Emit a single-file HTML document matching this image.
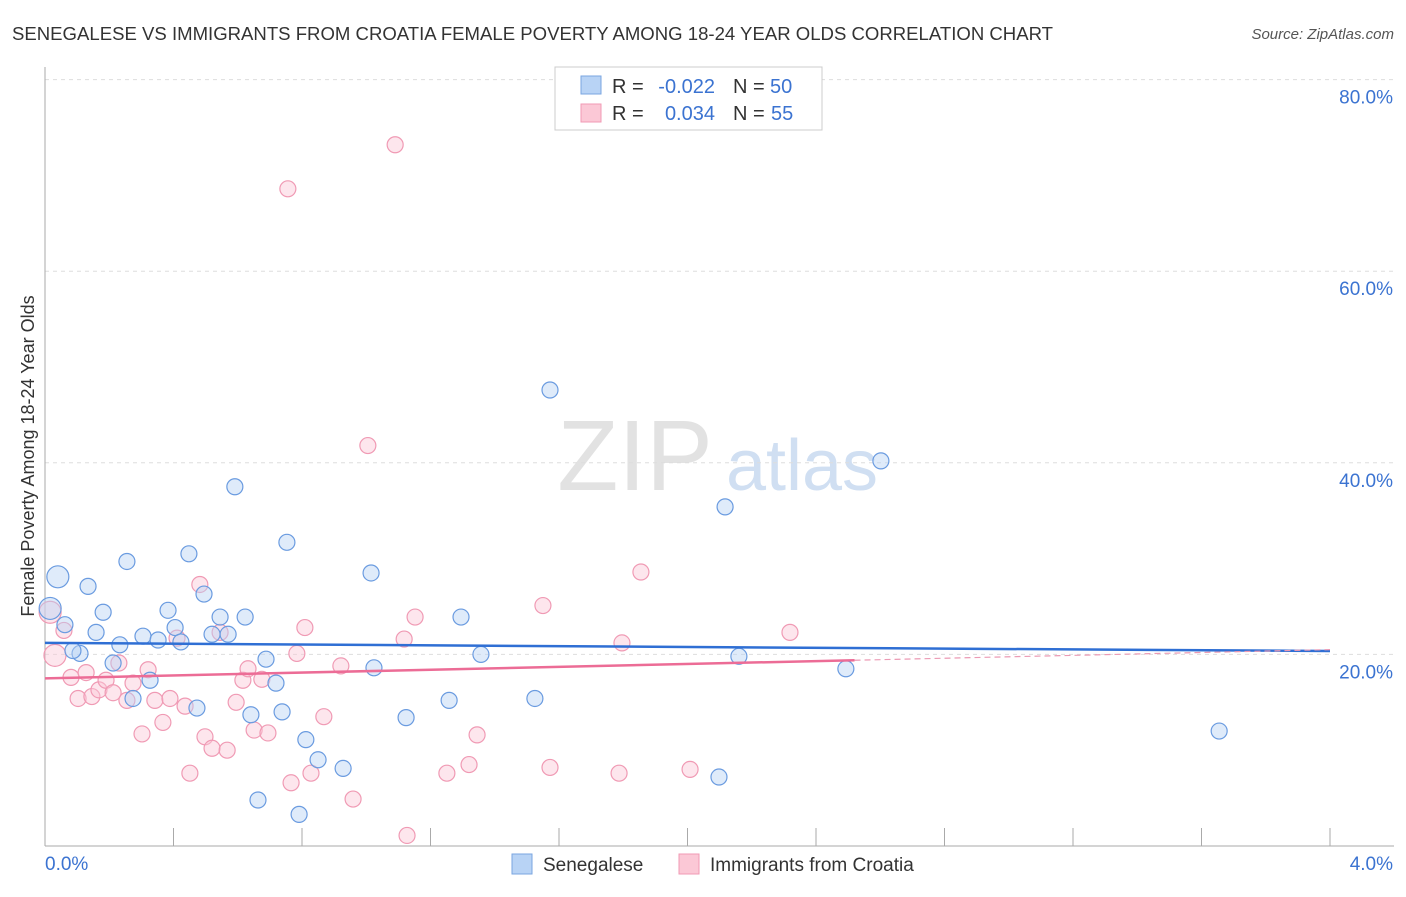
<!DOCTYPE html>
<html><head><meta charset="utf-8"><style>
body{margin:0;background:#fff;font-family:"Liberation Sans",sans-serif;}
svg text{font-family:"Liberation Sans",sans-serif;}
</style></head><body>
<svg id="chart" width="1406" height="892" xmlns="http://www.w3.org/2000/svg">
<text x="12" y="40" font-size="18" fill="#333" textLength="1041" lengthAdjust="spacingAndGlyphs">SENEGALESE VS IMMIGRANTS FROM CROATIA FEMALE POVERTY AMONG 18-24 YEAR OLDS CORRELATION CHART</text>
<text x="1394" y="39" font-size="15" fill="#555" font-style="italic" text-anchor="end">Source: ZipAtlas.com</text>
<text x="635" y="490" font-size="100" fill="#e2e2e2" font-family="Liberation Serif" text-anchor="middle">ZIP</text>
<text x="802" y="490" font-size="72" fill="#d0dff2" text-anchor="middle">atlas</text>
<text transform="translate(34,456) rotate(-90)" font-size="18" fill="#333" text-anchor="middle">Female Poverty Among 18-24 Year Olds</text>
<g id="grid"></g><g id="marks"></g>
<g>
<rect x="555" y="67" width="267" height="63" fill="#fff" stroke="#ccc"/>
<rect x="581" y="76" width="20" height="18" fill="#b8d3f5" stroke="#7aa6e0"/>
<rect x="581" y="104" width="20" height="18" fill="#fbc8d6" stroke="#f09ab4"/>
<text x="612" y="93" font-size="20" fill="#333">R =</text>
<text x="715" y="93" font-size="20" fill="#3b73d1" text-anchor="end">-0.022</text>
<text x="733" y="93" font-size="20" fill="#333">N =</text>
<text x="770" y="93" font-size="20" fill="#3b73d1">50</text>
<text x="612" y="120" font-size="20" fill="#333">R =</text>
<text x="715" y="120" font-size="20" fill="#3b73d1" text-anchor="end">0.034</text>
<text x="733" y="120" font-size="20" fill="#333">N =</text>
<text x="771" y="120" font-size="20" fill="#3b73d1">55</text>
</g>
<g>
<rect x="512" y="854" width="20" height="20" fill="#b8d3f5" stroke="#7aa6e0"/>
<text x="543" y="871" font-size="19" fill="#333">Senegalese</text>
<rect x="679" y="854" width="20" height="20" fill="#fbc8d6" stroke="#f09ab4"/>
<text x="710" y="871" font-size="19" fill="#333">Immigrants from Croatia</text>
</g>
</svg>
<script>
const blueX=[.016,.04,.062,.134,.181,.159,.109,.087,.212,.233,.255,.305,.327,.352,.383,.405,.423,.448,.473,.495,.52,.545,.57,.591,.623,.641,.663,.688,.719,.738,.753,.791,.812,.85,.928,1.015,1.024,1.124,1.258,1.295,1.357,1.525,1.572,2.098,2.117,2.16,2.493,2.602,3.655,.274];
const blueY=[24.8,28.1,23.1,27.1,24.4,22.3,20.1,20.4,19.1,21.0,29.7,21.9,17.3,21.5,24.6,22.8,21.3,30.5,14.4,26.3,22.1,23.9,22.1,37.5,23.9,13.7,4.8,19.5,17.0,14.0,31.7,3.3,11.1,9.0,8.1,28.5,18.6,13.4,15.2,23.9,20.0,15.4,47.6,7.2,35.4,19.8,18.5,40.2,12.0,15.4];
const pinkX=[.016,.031,.059,.081,.103,.128,.146,.168,.19,.212,.23,.255,.274,.302,.321,.342,.367,.389,.411,.436,.451,.482,.498,.52,.545,.567,.595,.616,.632,.651,.675,.694,.756,.766,.784,.809,.828,.868,.921,.959,1.005,1.09,1.118,1.127,1.152,1.251,1.32,1.345,1.55,1.572,1.787,1.796,1.855,2.008,2.319];
const pinkY=[24.4,19.9,22.5,17.6,15.4,18.1,15.6,16.3,17.3,16.0,19.1,15.2,17.0,11.7,18.4,15.2,12.9,15.4,21.7,14.6,7.6,27.3,11.4,10.2,22.3,10.0,15.0,17.3,18.5,12.1,17.4,11.8,68.6,6.6,20.1,22.8,7.6,13.5,18.8,4.9,41.8,73.2,21.6,1.1,23.9,7.6,8.5,11.6,25.1,8.2,7.6,21.2,28.6,8.0,22.3];
const blueTrend=[21.2,20.35];
const pinkTrend=[17.5,20.5];
const yTicks=[20,40,60,80];
const xTicks=[0,0.4,0.8,1.2,1.6,2.0,2.4,2.8,3.2,3.6,4.0];
const X=v=>45+v*321.25, Y=v=>846-v*9.58;
const NS="http://www.w3.org/2000/svg";
function mk(t,a,p){const e=document.createElementNS(NS,t);for(const k in a)e.setAttribute(k,a[k]);p.appendChild(e);return e;}
const g=document.getElementById('grid'),m=document.getElementById('marks');
for(const t of yTicks){
 const l=mk('line',{x1:45,x2:1394,y1:Y(t),y2:Y(t),stroke:'#ddd','stroke-dasharray':'4,4'},g);
 
 
 const tx=mk('text',{x:1393,y:Y(t)+24,'font-size':19,fill:'#3b73d1','text-anchor':'end'},g);tx.textContent=t.toFixed(1)+'%';
 
 
}
const ax=mk('line',{x1:45,x2:45,y1:67,y2:846,stroke:'#aaa'},g);


const bx=mk('line',{x1:45,x2:1394,y1:846,y2:846,stroke:'#aaa'},g);


for(const t of xTicks){const l=mk('line',{x1:X(t),x2:X(t),y1:828,y2:846,stroke:'#aaa'},g);
 
 }
for(const [v,anc,xx] of [[0,'start',45],[4,'end',1393]]){const tx=mk('text',{x:xx,y:870,'font-size':19,fill:'#3b73d1','text-anchor':anc},g);tx.textContent=v.toFixed(1)+'%';
 
 }
function pts(xs,ys,fill,stroke,name){for(let i=0;i<xs.length;i++){
 const c=mk('circle',{cx:X(xs[i]),cy:Y(ys[i]),r:i<2?11:8,fill:fill,'fill-opacity':0.45,stroke:stroke,'stroke-width':1.2},m);
 
 }}
pts(pinkX,pinkY,'#fbc8d6','#f09ab4','croatia-point');
pts(blueX,blueY,'#b8d3f5','#6a9be0','senegalese-point');
const bl=mk('line',{x1:X(0),y1:Y(blueTrend[0]),x2:X(4),y2:Y(blueTrend[1]),stroke:'#2f6fd4','stroke-width':2.5},m);


const pe=2.52,py=pinkTrend[0]+(pinkTrend[1]-pinkTrend[0])*pe/4;
const pl=mk('line',{x1:X(0),y1:Y(pinkTrend[0]),x2:X(pe),y2:Y(py),stroke:'#ec6c96','stroke-width':2.5},m);


const pd=mk('line',{x1:X(pe),y1:Y(py),x2:X(4),y2:Y(pinkTrend[1]),stroke:'#ec9ab4','stroke-width':1.2,'stroke-dasharray':'6,4'},m);


</script>
</body></html>
